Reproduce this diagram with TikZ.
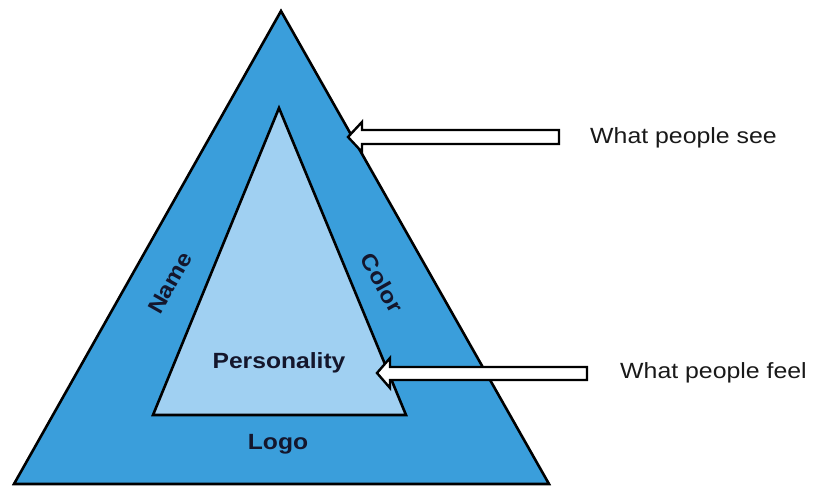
\documentclass[tikz,border=0pt]{standalone}
\usepackage{fontspec}
\setmainfont{Liberation Sans}
\definecolor{outerblue}{RGB}{58,158,219}
\definecolor{innerblue}{RGB}{160,208,242}
\definecolor{labelink}{RGB}{20,22,44}
\begin{document}
\begin{tikzpicture}[x=1pt,y=-1pt,
  tri/.style={draw=black,line width=2.6pt,line join=miter},
  bigarrow/.style={draw=black,fill=white,line width=2.4pt,line join=miter},
  inlabel/.style={font=\fontsize{22}{26}\selectfont\bfseries,text=labelink,inner sep=0pt},
  sidetext/.style={font=\fontsize{22}{26}\selectfont,text=black!90,inner sep=0pt,anchor=base}]
\useasboundingbox (0,0) rectangle (814,487);
% outer triangle
\coordinate (oa) at (281,11);
\coordinate (ol) at (14,484);
\coordinate (or) at (549,484);
\filldraw[tri,fill=outerblue] (oa) -- (ol) -- (or) -- cycle;
% inner triangle
\coordinate (ia) at (279,108);
\coordinate (il) at (153,415);
\coordinate (ir) at (406,415);
\filldraw[tri,fill=innerblue] (ia) -- (il) -- (ir) -- cycle;
% labels
\node[inlabel,anchor=base] (pers) at (279,368) {\scalebox{1.12}[1]{Personality}};
\node[inlabel,anchor=base] (logo) at (278,449) {\scalebox{1.12}[1]{Logo}};
\node[inlabel,rotate=60.6] (name) at (170,283) {\scalebox{1.12}[1]{Name}};
\node[inlabel,rotate=-60.6] (color) at (382,283) {\scalebox{1.12}[1]{Color}};
% arrows
\filldraw[bigarrow] (348,137) -- (362,122) -- (362,130) -- (559,130) -- (559,144) -- (362,144) -- (362,152) -- cycle;
\filldraw[bigarrow] (377,373) -- (390,358) -- (390,367) -- (587,367) -- (587,380) -- (390,380) -- (390,388) -- cycle;
% side texts
\node[sidetext] (see) at (683.5,143.3) {\scalebox{1.13}[1]{What people see}};
\node[sidetext] (feel) at (713.5,378.3) {\scalebox{1.13}[1]{What people feel}};
\end{tikzpicture}
\end{document}
